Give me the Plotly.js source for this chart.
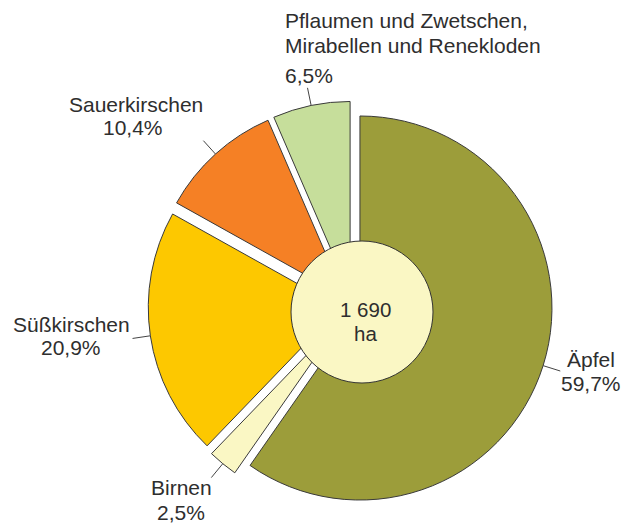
<!DOCTYPE html>
<html><head><meta charset="utf-8">
<script src="https://cdn.plot.ly/plotly-3.0.1.min.js"></script>
<style>html,body{margin:0;padding:0;background:#fff}</style>
</head><body><div id="chart" style="width:625px;height:529px"></div>
<script>
// ---- data ----
const categories = ["Äpfel", "Birnen", "Süßkirschen", "Sauerkirschen", "Pflaumen und Zwetschen, Mirabellen und Renekloden"];
const shares = [59.7, 2.5, 20.9, 10.4, 6.5];
const shareLabels = ["59,7%", "2,5%", "20,9%", "10,4%", "6,5%"];
const nameLines = [["Äpfel"], ["Birnen"], ["Süßkirschen"], ["Sauerkirschen"], ["Pflaumen und Zwetschen,", "Mirabellen und Renekloden"]];
const totalLines = ["1 690", "ha"];

// ---- styles / layout ----
const colors = ["#9c9d3a", "#faf7c4", "#fdc800", "#f58025", "#c6de9b"];
const pulls = [0.04, 0.065, 0.065, 0.065, 0.065];
const W = 625, H = 529;
const domX = [0.2370, 0.8914], domY = [0.0355, 0.8087];
const FS = 21, TXT = "#2e2e2e", FONT = "Liberation Sans, Arial, sans-serif";
// label anchors: [x, first baseline, anchor], percent line follows
const namePos = [[591, 367, "center"], [181, 495, "center"], [71, 332, "center"], [136, 112, "center"], [283, 28, "left"]];
const pctPos = [[591, 391, "center"], [181, 520, "center"], [71, 355, "center"], [133, 135, "center"], [283, 83, "left"]];
const lineStep = 25;

const px = x => x / W, py = y => 1 - y / H;
const annotations = [];
function addText(t, x, base, anchor, size) {
  annotations.push({xref: "paper", yref: "paper", x: px(x), y: py(base - size * 0.34), text: t,
    showarrow: false, xanchor: anchor, yanchor: "middle", font: {family: FONT, size: size, color: TXT}});
}
nameLines.forEach((lines, i) => {
  lines.forEach((t, j) => addText(t, namePos[i][0], namePos[i][1] + j * lineStep, namePos[i][2], FS));
  addText(shareLabels[i], pctPos[i][0], pctPos[i][1], pctPos[i][2], FS);
});
addText(totalLines[0], 365, 316, "center", 20.5);
addText(totalLines[1], 365, 340, "center", 20.5);

// leader lines computed from the slice geometry
const cx = W * (domX[0] + domX[1]) / 2, cy = H * (1 - (domY[0] + domY[1]) / 2);
const maxPull = Math.max(...pulls);
const R = Math.min(W * (domX[1] - domX[0]), H * (domY[1] - domY[0])) / (2 + 2 * maxPull);
const total = shares.reduce((a, b) => a + b, 0);
const shapes = [];
let cum = 0;
shares.forEach((v, i) => {
  const mid = (cum + v / 2) / total * 2 * Math.PI; cum += v;
  const s = Math.sin(mid), c = -Math.cos(mid);
  const ox = cx + pulls[i] * R * s, oy = cy + pulls[i] * R * c;
  shapes.push({type: "line", xref: "paper", yref: "paper",
    x0: px(ox + R * s), y0: py(oy + R * c), x1: px(ox + (R + 18) * s), y1: py(oy + (R + 18) * c),
    line: {color: "#444", width: 1}});
});
// centre disc
shapes.push({type: "circle", xref: "paper", yref: "paper", xsizemode: "pixel", ysizemode: "pixel",
  xanchor: px(362), yanchor: py(312), x0: -71, x1: 71, y0: -71, y1: 71,
  fillcolor: "#faf7c4", line: {color: "#333", width: 1}, layer: "above"});

const trace = {
  type: "pie", labels: categories, values: shares, sort: false, direction: "clockwise", rotation: 0,
  pull: pulls, textinfo: "none", hoverinfo: "label+percent",
  marker: {colors: colors, line: {color: "#3a3a3a", width: 1}},
  domain: {x: domX, y: domY}
};
const layout = {
  width: W, height: H, margin: {l: 0, r: 0, t: 0, b: 0}, showlegend: false,
  paper_bgcolor: "#fff", plot_bgcolor: "#fff", annotations: annotations, shapes: shapes,
  font: {family: FONT}
};
Plotly.newPlot("chart", [trace], layout, {displayModeBar: false, staticPlot: true});
</script></body></html>
